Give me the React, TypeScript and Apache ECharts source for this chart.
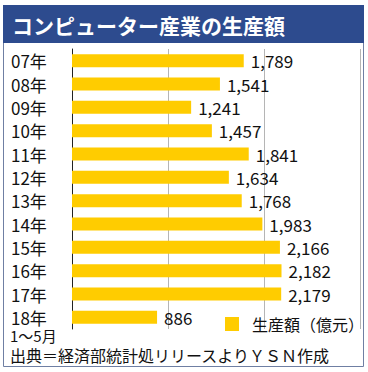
import React, { useEffect, useRef } from "react";
import * as echarts from "echarts";

const categories = ["07年", "08年", "09年", "10年", "11年", "12年", "13年", "14年", "15年", "16年", "17年", "18年"];
const values = [1789, 1541, 1241, 1457, 1841, 1634, 1768, 1983, 2166, 2182, 2179, 886];
const seriesName = "生産額（億元）";
const title = "コンピューター産業の生産額";
const lastNote = "1～5月";
const source = "出典＝経済部統計処リリースよりＹＳＮ作成";

const FONT = "'Noto Sans CJK JP', 'Noto Sans', sans-serif";

export default function App() {
  const ref = useRef<HTMLDivElement>(null);
  useEffect(() => {
    const chart = echarts.init(ref.current!, null, { renderer: "svg" });
    chart.setOption({
      animation: false,
      backgroundColor: "#ffffff",
      textStyle: { fontFamily: FONT },
      grid: { left: 72, top: 49, width: 288, height: 280, containLabel: false },
      legend: {
        data: [seriesName],
        left: 220,
        top: 311,
        icon: "rect",
        itemWidth: 14,
        itemHeight: 14,
        itemGap: 14,
        textStyle: { fontSize: 16, color: "#111", fontFamily: FONT, padding: [0, 0, 0, 8] },
      },
      xAxis: {
        type: "value",
        min: 0,
        max: 3000,
        interval: 1000,
        axisLabel: { show: false },
        axisLine: { show: false },
        axisTick: { show: false },
        splitLine: { show: true, lineStyle: { color: "#b5b5b5", width: 1 } },
      },
      yAxis: {
        type: "category",
        data: categories,
        inverse: true,
        axisLine: { show: true, lineStyle: { color: "#222", width: 1 } },
        axisTick: { show: false },
        axisLabel: {
          align: "left",
          margin: 61,
          fontSize: 17,
          color: "#111",
          fontFamily: FONT,
        },
      },
      series: [
        {
          name: seriesName,
          type: "bar",
          data: values,
          barWidth: 13,
          itemStyle: { color: "#FFCC00" },
          label: {
            show: true,
            position: "right",
            distance: 7,
            fontSize: 17,
            color: "#111",
            fontFamily: FONT,
            formatter: (p: any) => Number(p.value).toLocaleString("en-US"),
          },
        },
      ],
      graphic: [
        {
          type: "rect",
          shape: { x: 3.5, y: 5.5, width: 360, height: 361 },
          style: { fill: "none", stroke: "#6f7fa3", lineWidth: 1 },
          z: 10,
        },
        {
          type: "rect",
          shape: { x: 3, y: 5, width: 361, height: 38 },
          style: { fill: "#2d4b8e" },
          z: 11,
        },
        {
          type: "text",
          x: 12,
          y: 25,
          style: {
            text: title,
            fill: "#ffffff",
            font: `bold 21px ${FONT}`,
            verticalAlign: "middle",
          },
          z: 12,
        },
        {
          type: "text",
          x: 10,
          y: 335,
          style: {
            text: lastNote,
            fill: "#111",
            font: `15px ${FONT}`,
            verticalAlign: "middle",
          },
          z: 12,
        },
        {
          type: "text",
          x: 10,
          y: 355,
          style: {
            text: source,
            fill: "#111",
            font: `16px ${FONT}`,
            verticalAlign: "middle",
          },
          z: 12,
        },
      ],
    });
    return () => chart.dispose();
  }, []);
  return (
    <div
      ref={ref}
      style={{ position: "fixed", left: 0, top: 0, width: 368, height: 372 }}
    />
  );
}
